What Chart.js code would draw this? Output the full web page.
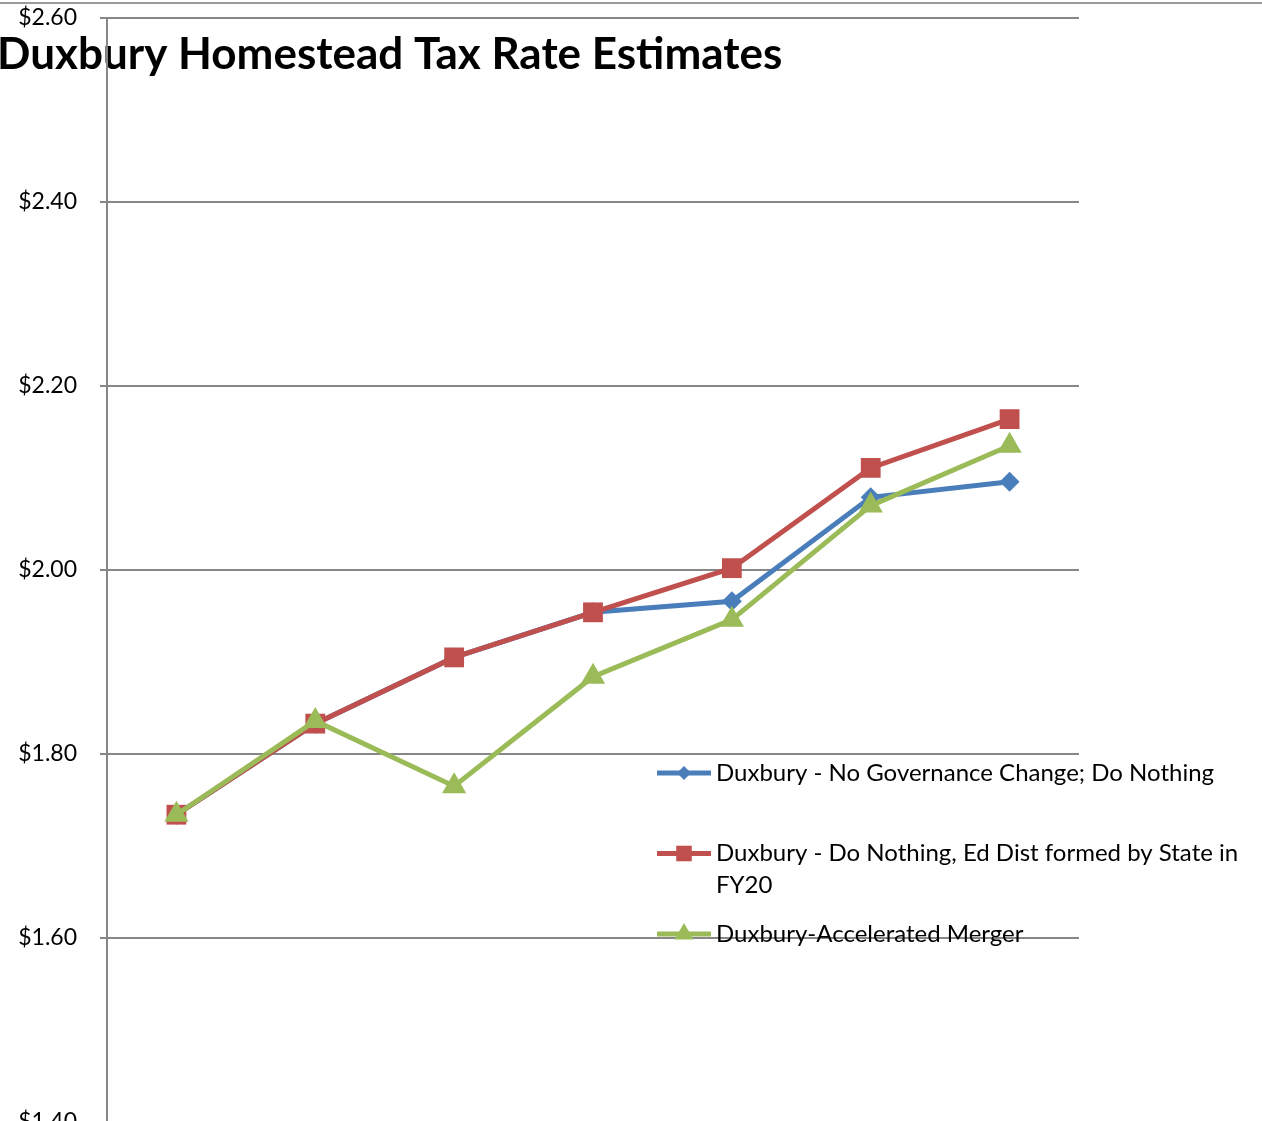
<!DOCTYPE html>
<html>
<head>
<meta charset="utf-8">
<script src="https://cdn.jsdelivr.net/npm/chart.js@4.4.0/dist/chart.umd.min.js"></script>
<style>
  html, body { margin: 0; padding: 0; background: #fff; overflow: hidden; }
  #frame { position: relative; width: 1262px; height: 1121px; overflow: hidden; }
  #frame::before { content: ''; position: absolute; left: 0; right: 0; top: 2px; height: 2px; background: #9a9a9a; z-index: 1; }
  #chart { position: absolute; left: 0; top: 0; }
</style>
</head>
<body>
<div id="frame"><canvas id="chart" width="1262" height="1200"></canvas></div>
<script>
  // 年度（軸ラベルは枠外）
  const years = ['FY17', 'FY18', 'FY19', 'FY20', 'FY21', 'FY22', 'FY23'];

  // 税率の見積もり
  const noChange = [1.734, 1.833, 1.905, 1.954, 1.966, 2.079, 2.096];
  const stateDistrict = [1.734, 1.833, 1.905, 1.954, 2.002, 2.111, 2.164];
  const accelerated = [1.734, 1.836, 1.765, 1.884, 1.946, 2.070, 2.135];

  // 縦軸の目盛り
  const yMin = 1.40;
  const yMax = 2.60;
  const yStep = 0.20;

  const seriesNames = [
    'Duxbury - No Governance Change; Do Nothing',
    'Duxbury - Do Nothing, Ed Dist formed by State in FY20',
    'Duxbury-Accelerated Merger'
  ];

  const FONT = 'Lato, "Open Sans", sans-serif';

  // タイトル（グリッドの下に描く）
  const titlePlugin = {
    id: 'plainTitle',
    beforeDraw(chart) {
      const ctx = chart.ctx;
      ctx.save();
      ctx.font = 'bold 44px ' + FONT;
      ctx.fillStyle = '#000';
      ctx.textBaseline = 'alphabetic';
      ctx.fillText('Duxbury Homestead Tax Rate Estimates', -3, 69);
      ctx.restore();
    }
  };

  // 右側の凡例（折り返しあり）
  const legendPlugin = {
    id: 'sideLegend',
    afterDatasetsDraw(chart) {
      const ctx = chart.ctx;
      const maxWidth = chart.width - 716 - 12;
      ctx.save();
      ctx.font = '24px ' + FONT;
      ctx.textBaseline = 'middle';
      chart.data.datasets.forEach((ds, i) => {
        const y = 773 + i * 80.5;
        ctx.strokeStyle = ds.borderColor;
        ctx.lineWidth = 5;
        ctx.beginPath();
        ctx.moveTo(657, y);
        ctx.lineTo(711, y);
        ctx.stroke();
        ctx.fillStyle = ds.backgroundColor;
        Chart.helpers.drawPoint(ctx, { pointStyle: ds.pointStyle, radius: ds.legendRadius, borderWidth: 0, rotation: 0 }, 684, y);

        const words = ds.label.split(' ');
        const lines = [];
        let line = '';
        words.forEach(w => {
          const test = line ? line + ' ' + w : w;
          if (ctx.measureText(test).width > maxWidth && line) {
            lines.push(line);
            line = w;
          } else {
            line = test;
          }
        });
        lines.push(line);
        ctx.fillStyle = '#000';
        lines.forEach((l, k) => ctx.fillText(l, 716, y + k * 32));
      });
      ctx.restore();
    }
  };

  function makeSeries(label, data, color, style, radius, legendRadius, order) {
    return {
      label: label,
      data: data,
      borderColor: color,
      backgroundColor: color,
      borderWidth: 5,
      pointStyle: style,
      pointRadius: radius,
      pointBorderWidth: 0,
      pointBackgroundColor: color,
      legendRadius: legendRadius,
      tension: 0,
      order: order
    };
  }

  const ctx = document.getElementById('chart');
  new Chart(ctx, {
    type: 'line',
    data: {
      labels: years,
      datasets: [
        makeSeries(seriesNames[0], noChange, '#4a7ebb', 'rectRot', 10, 7, 2),
        makeSeries(seriesNames[1], stateDistrict, '#c0504d', 'rect', 14, 11, 1),
        makeSeries(seriesNames[2], accelerated, '#9bbb59', 'triangle', 14, 11, 0)
      ]
    },
    options: {
      responsive: false,
      animation: false,
      layout: { padding: { left: 0, top: 18, right: 183, bottom: 78 } },
      plugins: {
        legend: { display: false },
        title: { display: false },
        tooltip: { enabled: false }
      },
      scales: {
        x: { display: false, offset: true },
        y: {
          min: yMin,
          max: yMax,
          afterFit(scale) {
            scale.width = 107;
            scale.paddingTop = 0;
            scale.paddingBottom = 0;
          },
          border: { display: true, color: '#878787', width: 2 },
          grid: { color: '#878787', lineWidth: 2, tickLength: 7, drawTicks: true },
          ticks: {
            stepSize: yStep,
            padding: 23,
            color: '#000',
            font: { family: FONT, size: 23 },
            callback: v => '$' + Number(v).toFixed(2)
          }
        }
      }
    },
    plugins: [titlePlugin, legendPlugin]
  });
</script>
</body>
</html>
